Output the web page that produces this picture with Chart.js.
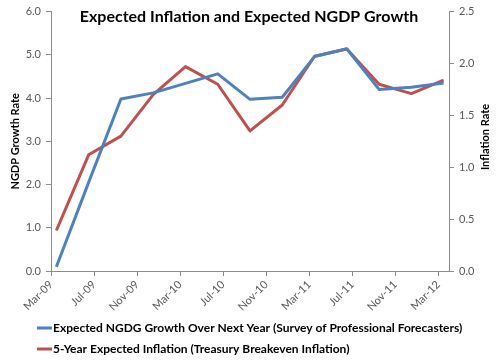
<!DOCTYPE html>
<html><head><meta charset="utf-8">
<script src="https://cdn.jsdelivr.net/npm/chart.js@4/dist/chart.umd.min.js"></script>
<style>html,body{margin:0;padding:0;background:#fff}#wrap{width:500px;height:361px}</style>
</head><body><div id="wrap"><canvas id="c" width="500" height="361"></canvas></div>
<script>
const quarters = ['Mar-09','Jun-09','Sep-09','Dec-09','Mar-10','Jun-10','Sep-10','Dec-10','Mar-11','Jun-11','Sep-11','Dec-11','Mar-12'];
const ngdpGrowth = [0.1, 2.05, 3.98, 4.12, 4.34, 4.56, 3.97, 4.02, 4.96, 5.14, 4.20, 4.25, 4.35];
const expInflation = [0.39, 1.12, 1.30, 1.70, 1.97, 1.80, 1.35, 1.60, 2.07, 2.14, 1.80, 1.71, 1.84];
const xTickLabels = ['Mar-09','Jul-09','Nov-09','Mar-10','Jul-10','Nov-10','Mar-11','Jul-11','Nov-11','Mar-12'];
const leftTicks = [0,1,2,3,4,5,6];
const rightTicks = [0,0.5,1,1.5,2,2.5];
const titleText = 'Expected Inflation and Expected NGDP Growth';
const seriesNames = ['Expected NGDG Growth Over Next Year (Survey of Professional Forecasters)','5-Year Expected Inflation (Treasury Breakeven Inflation)'];
const leftTitle = 'NGDP Growth Rate';
const rightTitle = 'Inflation Rate';

const MON = ['Jan','Feb','Mar','Apr','May','Jun','Jul','Aug','Sep','Oct','Nov','Dec'];
function mIdx(lbl){const p=lbl.split('-');return (2000+ +p[1])*12+MON.indexOf(p[0]) - (2009*12+2);}
const lastMonth = mIdx(quarters[quarters.length-1]) + 1;

const BLUE='#4F81BD', RED='#C0504D', AX='#8c8c8c', TXT='#595959';
const FONT='Lato, "Open Sans", sans-serif';

const overlay = {
  id:'overlay',
  afterDraw(chart){
    const ctx=chart.ctx, a=chart.chartArea;
    ctx.save();
    ctx.fillStyle='#000';
    ctx.font='bold 16px '+FONT;
    ctx.textAlign='center'; ctx.textBaseline='alphabetic';
    ctx.fillText(titleText, 249, 22);
    ctx.font='bold 11px '+FONT;
    ctx.textBaseline='middle';
    ctx.save(); ctx.translate(15,(a.top+a.bottom)/2); ctx.rotate(-Math.PI/2); ctx.fillText(leftTitle,0,0); ctx.restore();
    ctx.save(); ctx.translate(485,137); ctx.rotate(-Math.PI/2); ctx.fillText(rightTitle,0,0); ctx.restore();
    const rows=[328,349], cols=[BLUE,RED];
    ctx.textAlign='left';
    ctx.font='bold 12px '+FONT;
    rows.forEach((y,i)=>{
      ctx.strokeStyle=cols[i]; ctx.lineWidth=3; ctx.beginPath(); ctx.moveTo(37,y); ctx.lineTo(52,y); ctx.stroke();
      ctx.fillStyle='#000'; ctx.fillText(seriesNames[i],53,y);
    });
    ctx.restore();
  }
};

new Chart(document.getElementById('c'),{
  type:'line',
  data:{datasets:[
    {label:seriesNames[0],data:quarters.map((q,i)=>({x:mIdx(q)+0.5,y:ngdpGrowth[i]})),borderColor:BLUE,backgroundColor:BLUE,borderWidth:3,pointRadius:0,tension:0,yAxisID:'y',borderJoinStyle:'round'},
    {label:seriesNames[1],data:quarters.map((q,i)=>({x:mIdx(q)+0.5,y:expInflation[i]})),borderColor:RED,backgroundColor:RED,borderWidth:3,pointRadius:0,tension:0,yAxisID:'y1',borderJoinStyle:'round'}
  ]},
  options:{
    responsive:false,animation:false,
    layout:{padding:{top:10,bottom:45,left:0,right:0}},
    plugins:{legend:{display:false},title:{display:false},tooltip:{enabled:false}},
    scales:{
      x:{type:'linear',min:0,max:lastMonth,
        afterBuildTicks(s){s.ticks=xTickLabels.map(l=>({value:mIdx(l)}));},
        afterFit(s){s.height=45;},
        ticks:{autoSkip:false,minRotation:45,maxRotation:45,padding:2,color:TXT,font:{family:FONT,size:11},
          callback(v,i){return xTickLabels[i];}},
        grid:{drawOnChartArea:false,drawTicks:true,tickLength:5,color:AX},
        border:{color:AX}},
      y:{position:'left',min:0,max:6,
        afterBuildTicks(s){s.ticks=leftTicks.map(v=>({value:v}));},
        afterFit(s){s.width=51;},
        ticks:{padding:5,color:TXT,font:{family:FONT,size:11},callback:v=>v.toFixed(1)},
        grid:{drawOnChartArea:false,drawTicks:true,tickLength:5,color:AX},
        border:{color:AX}},
      y1:{position:'right',min:0,max:2.5,
        afterBuildTicks(s){s.ticks=rightTicks.map(v=>({value:v}));},
        afterFit(s){s.width=51;},
        ticks:{padding:5,color:TXT,font:{family:FONT,size:11},callback:v=>v.toFixed(1)},
        grid:{drawOnChartArea:false,drawTicks:true,tickLength:5,color:AX},
        border:{color:AX}}
    }
  },
  plugins:[overlay]
});
</script></body></html>
